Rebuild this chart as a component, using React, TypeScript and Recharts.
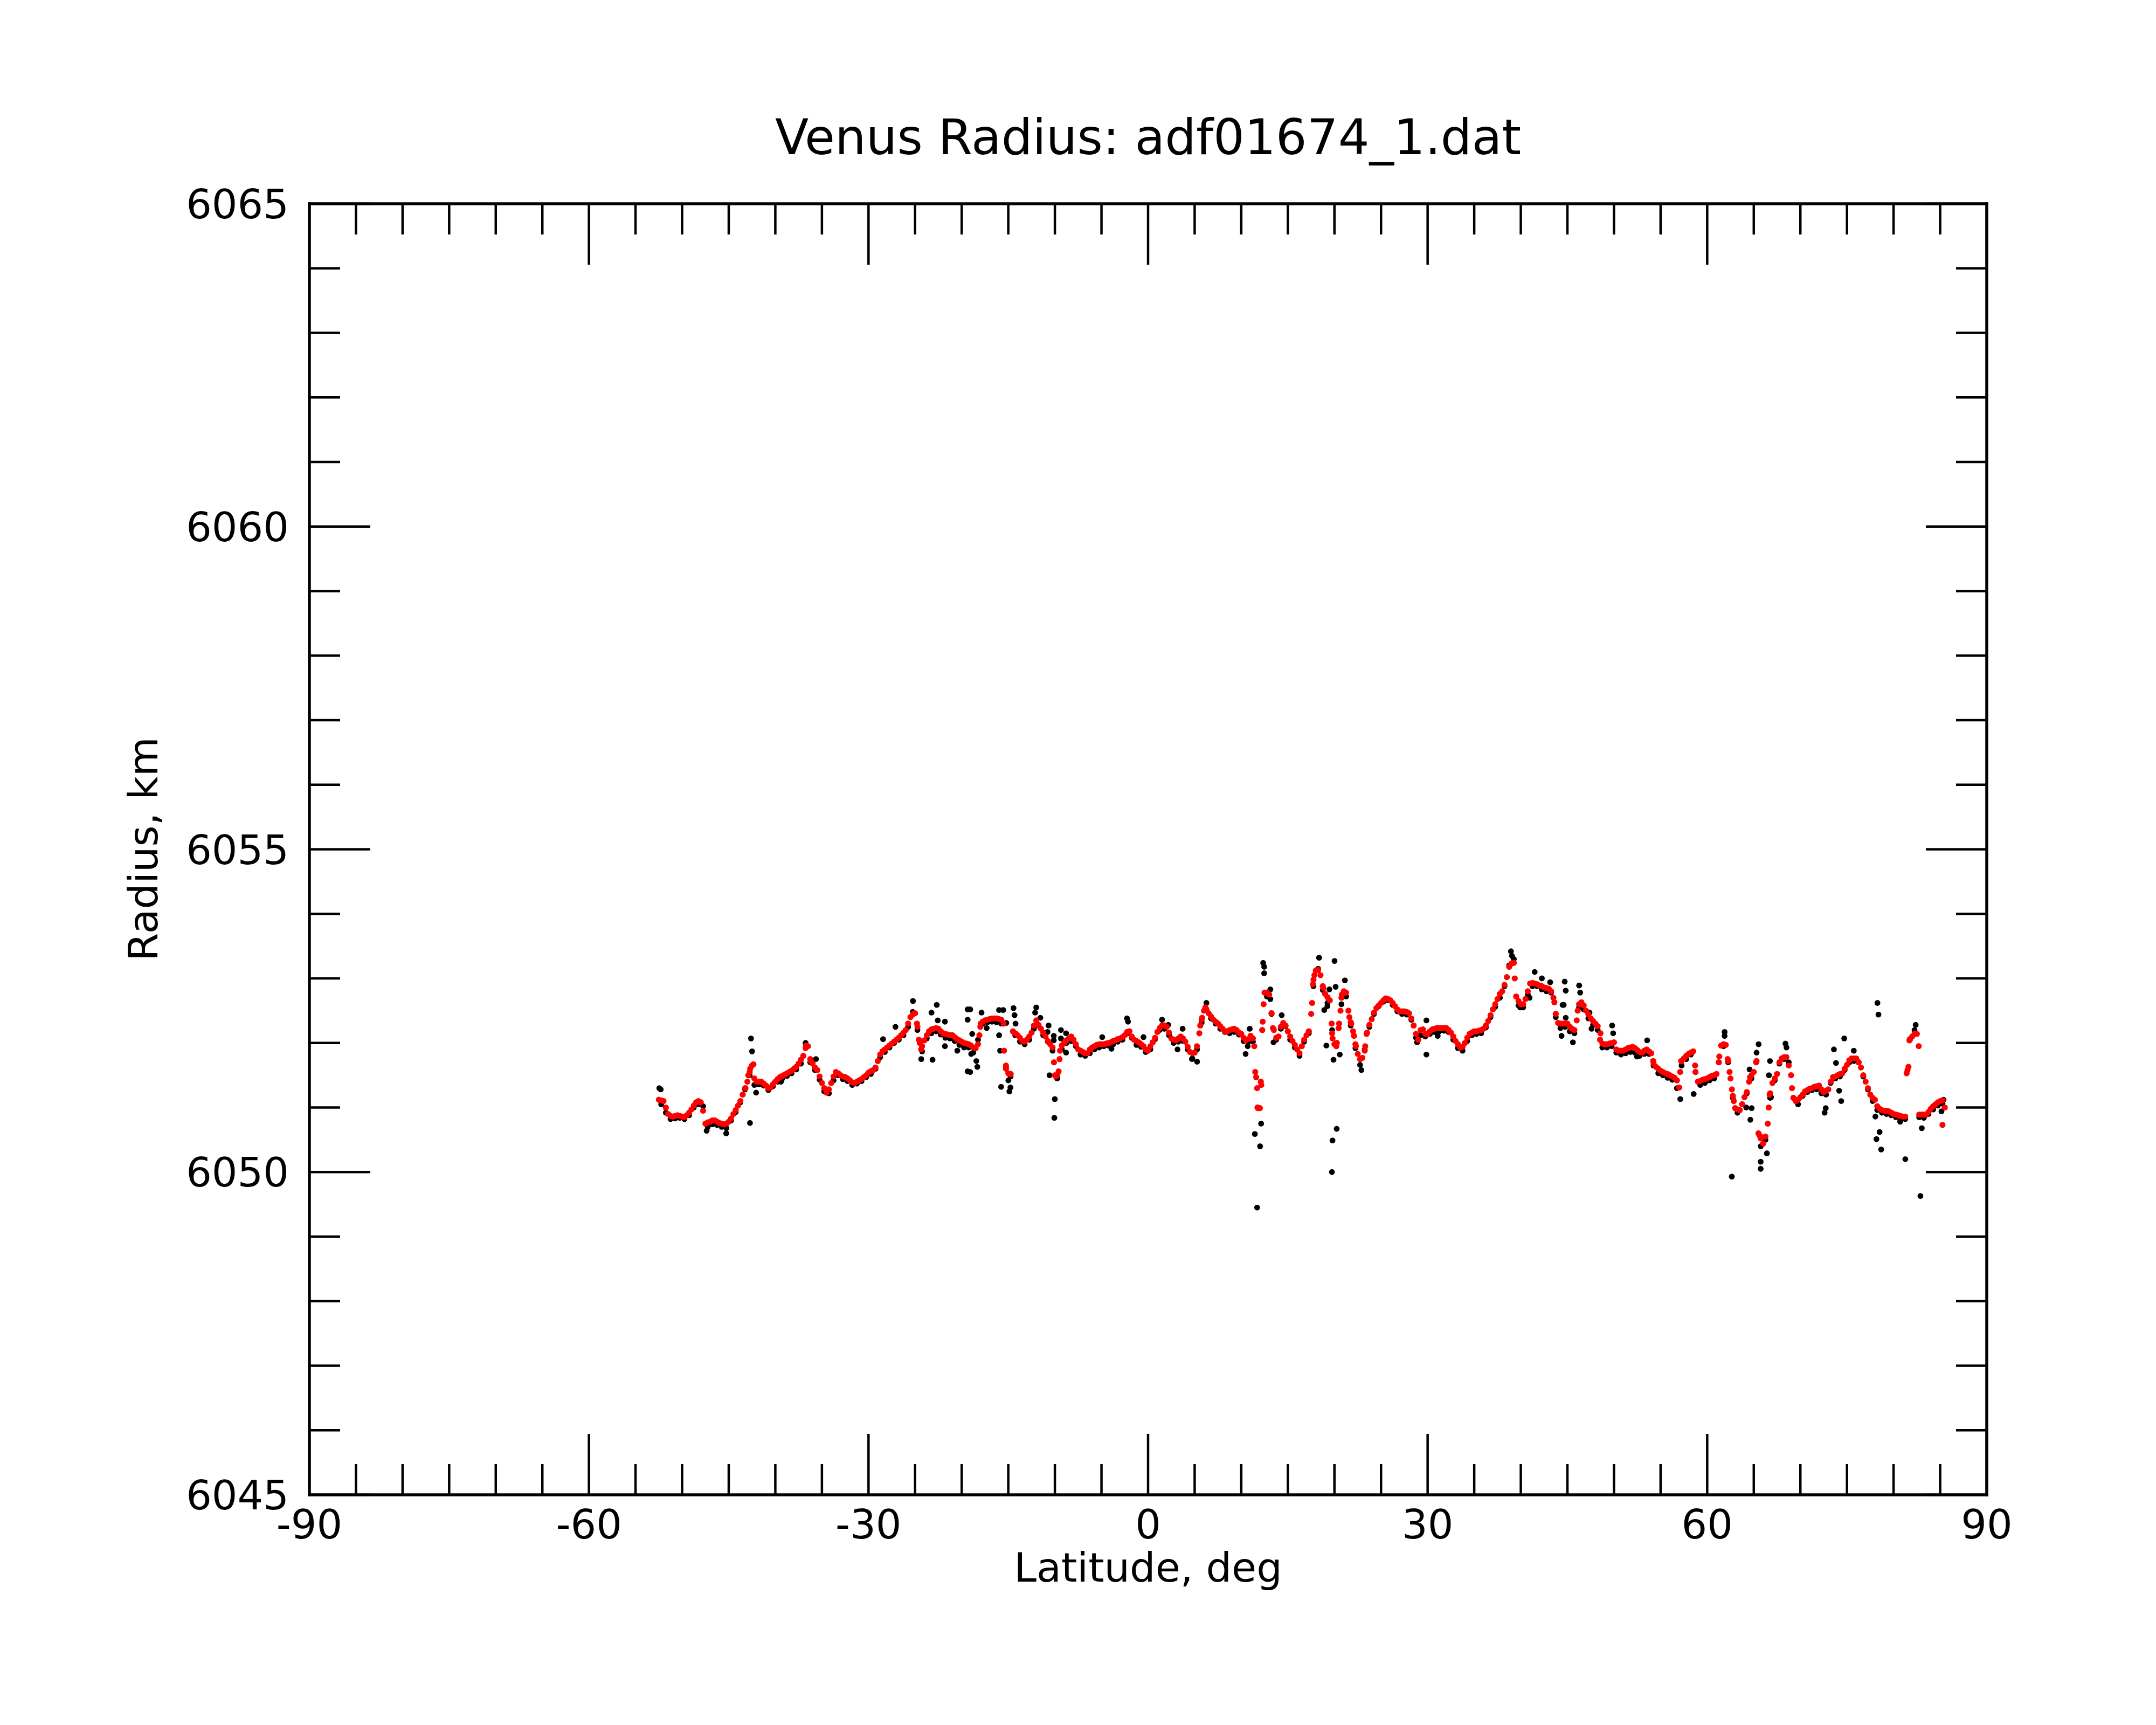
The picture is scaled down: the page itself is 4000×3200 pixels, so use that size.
import { ScatterChart, Scatter, XAxis, YAxis } from "recharts"

const TITLE = "Venus Radius: adf01674_1.dat"
const X_LABEL = "Latitude, deg"
const Y_LABEL = "Radius, km"

const X_TICKS = [-90, -85, -80, -75, -70, -65, -60, -55, -50, -45, -40, -35, -30, -25, -20, -15, -10, -5, 0,
  5, 10, 15, 20, 25, 30, 35, 40, 45, 50, 55, 60, 65, 70, 75, 80, 85, 90]
const Y_TICKS = [6045, 6046, 6047, 6048, 6049, 6050, 6051, 6052, 6053, 6054, 6055,
  6056, 6057, 6058, 6059, 6060, 6061, 6062, 6063, 6064, 6065]

// smoothed radius (red), read every 0.5 deg from -52.5
const RED_START = -52.5
const RED_STEP = 0.5
const RED_RADIUS = [
  6051.12, 6051.10, 6050.90, 6050.86, 6050.88, 6050.86, 6050.88, 6050.97, 6051.08, 6051.08,
  6050.75, 6050.78, 6050.80, 6050.76, 6050.74, 6050.78, 6050.90, 6051.03, 6051.20, 6051.40,
  6051.65, 6051.40, 6051.40, 6051.34, 6051.31, 6051.40, 6051.47, 6051.51, 6051.55, 6051.60,
  6051.68, 6051.80, 6051.95, 6051.68, 6051.58, 6051.38, 6051.23, 6051.38, 6051.55, 6051.50,
  6051.47, 6051.42, 6051.38, 6051.42, 6051.47, 6051.54, 6051.58, 6051.72, 6051.87, 6051.93,
  6051.99, 6052.05, 6052.12, 6052.20, 6052.40, 6052.46, 6052.00, 6052.04, 6052.18, 6052.22,
  6052.22, 6052.15, 6052.13, 6052.12, 6052.06, 6052.02, 6051.99, 6051.96, 6051.92, 6052.25,
  6052.35, 6052.37, 6052.38, 6052.37, 6052.30, 6051.53, 6052.18, 6052.12, 6052.03, 6052.05,
  6052.16, 6052.35, 6052.22, 6052.10, 6051.98, 6051.50, 6051.75, 6052.00, 6052.07, 6052.05,
  6051.90, 6051.86, 6051.84, 6051.93, 6051.97, 6051.98, 6051.99, 6052.01, 6052.04, 6052.07,
  6052.12, 6052.18, 6052.05, 6052.01, 6051.95, 6051.88, 6052.01, 6052.17, 6052.27, 6052.25,
  6052.07, 6052.04, 6052.10, 6052.02, 6051.86, 6051.85, 6052.15, 6052.50, 6052.46, 6052.36,
  6052.30, 6052.22, 6052.18, 6052.21, 6052.20, 6052.14, 6052.04, 6052.11, 6051.55, 6050.99,
  6052.78, 6052.75, 6052.20, 6052.10, 6052.31, 6052.18, 6052.03, 6051.90, 6051.95, 6052.12,
  6052.45, 6053.12, 6053.05, 6052.76, 6052.66, 6051.98, 6052.30, 6052.80, 6052.50, 6052.18,
  6051.83, 6051.77, 6052.16, 6052.37, 6052.54, 6052.62, 6052.69, 6052.66, 6052.57, 6052.49,
  6052.49, 6052.46, 6052.27, 6052.05, 6052.21, 6052.14, 6052.21, 6052.23, 6052.23, 6052.23,
  6052.16, 6052.03, 6051.93, 6052.00, 6052.14, 6052.18, 6052.19, 6052.22, 6052.34, 6052.52,
  6052.68, 6052.80, 6053.02, 6053.23, 6052.72, 6052.60, 6052.68, 6052.92, 6052.92, 6052.89,
  6052.86, 6052.84, 6052.70, 6052.31, 6052.30, 6052.30, 6052.22, 6052.35, 6052.63, 6052.50,
  6052.38, 6052.30, 6052.05, 6051.98, 6051.99, 6052.01, 6051.88, 6051.88, 6051.92, 6051.94,
  6051.89, 6051.85, 6051.90, 6051.84, 6051.63, 6051.57, 6051.53, 6051.50, 6051.46, 6051.31,
  6051.76, 6051.83, 6051.87, 6051.40, 6051.43, 6051.45, 6051.49, 6051.52, 6051.96, 6051.97,
  6051.45, 6050.99, 6050.96, 6051.16, 6051.40, 6051.55, 6050.60, 6050.44, 6050.75, 6051.38,
  6051.52, 6051.76, 6051.78, 6051.50, 6051.10, 6051.16, 6051.25, 6051.29, 6051.32, 6051.34,
  6051.24, 6051.28, 6051.47, 6051.50, 6051.53, 6051.66, 6051.76, 6051.76, 6051.62, 6051.40,
  6051.20, 6051.12, 6050.98, 6050.95, 6050.94, 6050.90, 6050.88, 6050.86, 6051.58, 6052.10,
  6052.14, 6050.89, 6050.89, 6050.98, 6051.05, 6051.10, 6051.00,
]

// smoothed radius (red), read every 0.5 deg from -52.25
const RED_MID_START = -52.25
const RED_MID_STEP = 0.5
const RED_MID_RADIUS = [
  6051.11, 6051.00, 6050.87, 6050.87, 6050.87, 6050.85, 6050.92, 6051.03, 6051.10, 6050.95,
  6050.77, 6050.80, 6050.78, 6050.75, 6050.75, 6050.83, 6050.96, 6051.10, 6051.30, 6051.55,
  6051.45, 6051.40, 6051.37, 6051.30, 6051.36, 6051.44, 6051.49, 6051.53, 6051.57, 6051.63,
  6051.74, 6051.92, 6051.75, 6051.62, 6051.48, 6051.30, 6051.28, 6051.48, 6051.53, 6051.48,
  6051.45, 6051.39, 6051.40, 6051.44, 6051.50, 6051.56, 6051.62, 6051.82, 6051.90, 6051.96,
  6052.02, 6052.08, 6052.16, 6052.30, 6052.44, 6052.25, 6051.95, 6052.12, 6052.21, 6052.23,
  6052.18, 6052.14, 6052.12, 6052.09, 6052.04, 6052.00, 6051.98, 6051.93, 6051.98, 6052.33,
  6052.36, 6052.38, 6052.38, 6052.36, 6051.60, 6051.52, 6052.15, 6052.08, 6052.02, 6052.10,
  6052.27, 6052.28, 6052.16, 6052.03, 6051.93, 6051.50, 6051.96, 6052.04, 6052.10, 6051.98,
  6051.88, 6051.84, 6051.90, 6051.95, 6051.98, 6051.98, 6052.00, 6052.03, 6052.06, 6052.09,
  6052.17, 6052.10, 6052.03, 6051.98, 6051.90, 6051.95, 6052.08, 6052.23, 6052.27, 6052.16,
  6052.05, 6052.07, 6052.07, 6051.94, 6051.84, 6051.95, 6052.36, 6052.52, 6052.41, 6052.33,
  6052.26, 6052.18, 6052.20, 6052.22, 6052.16, 6052.08, 6052.06, 6052.07, 6051.00, 6052.20,
  6052.78, 6052.46, 6052.08, 6052.25, 6052.27, 6052.10, 6051.97, 6051.84, 6052.05, 6052.18,
  6052.98, 6053.13, 6052.88, 6052.71, 6052.15, 6052.00, 6052.70, 6052.78, 6052.32, 6051.98,
  6051.75, 6051.88, 6052.28, 6052.47, 6052.58, 6052.66, 6052.68, 6052.62, 6052.52, 6052.49,
  6052.48, 6052.38, 6052.14, 6052.20, 6052.14, 6052.18, 6052.22, 6052.23, 6052.23, 6052.20,
  6052.10, 6051.98, 6051.94, 6052.08, 6052.16, 6052.18, 6052.20, 6052.27, 6052.43, 6052.60,
  6052.76, 6052.90, 6053.18, 6053.24, 6052.65, 6052.60, 6052.80, 6052.93, 6052.91, 6052.88,
  6052.85, 6052.80, 6052.45, 6052.30, 6052.30, 6052.25, 6052.20, 6052.60, 6052.58, 6052.44,
  6052.34, 6052.26, 6051.99, 6051.98, 6052.00, 6051.90, 6051.88, 6051.90, 6051.93, 6051.92,
  6051.86, 6051.88, 6051.87, 6051.68, 6051.60, 6051.55, 6051.52, 6051.48, 6051.42, 6051.72,
  6051.80, 6051.85, 6051.55, 6051.41, 6051.44, 6051.47, 6051.50, 6051.70, 6051.98, 6051.72,
  6051.18, 6050.97, 6051.05, 6051.24, 6051.50, 6051.70, 6050.52, 6050.55, 6051.22, 6051.45,
  6051.70, 6051.78, 6051.65, 6051.15, 6051.12, 6051.20, 6051.27, 6051.30, 6051.33, 6051.28,
  6051.26, 6051.40, 6051.48, 6051.52, 6051.60, 6051.73, 6051.76, 6051.70, 6051.50, 6051.30,
  6051.15, 6051.02, 6050.96, 6050.95, 6050.92, 6050.89, 6050.87, 6050.86, 6052.06, 6052.14,
  6050.89, 6050.89, 6050.93, 6051.02, 6051.08, 6051.11,
]

// red points on the steep parts and in the dips
const RED_EXTRA: [number, number][] = [
  [-43.2, 6051.30], [-42.9, 6051.50], [-42.7, 6051.60], [-42.35, 6051.67], [-36.7, 6051.96], [-36.2, 6051.72],
  [-25.2, 6052.45], [-24.8, 6052.30], [-24.6, 6052.05], [-24.35, 6051.90], [-18.1, 6052.12], [-17.95, 6052.30],
  [-15.45, 6051.88], [-15.25, 6051.65], [-14.9, 6051.52], [-14.75, 6051.52], [-10.1, 6051.70], [-9.9, 6051.48],
  [-9.6, 6051.56], [-9.45, 6051.88], [5.6, 6052.27], [5.8, 6052.39], [6.15, 6052.55], [11.4, 6051.95],
  [11.6, 6051.47], [11.7, 6051.30], [11.8, 6050.99], [11.9, 6050.99], [12.1, 6051.40], [12.15, 6051.35],
  [12.3, 6052.33], [12.4, 6052.60], [13.25, 6052.46], [13.4, 6052.23], [17.6, 6052.62], [17.7, 6052.91],
  [17.85, 6053.05], [18.8, 6052.85], [19.7, 6052.30], [19.8, 6052.07], [20.2, 6051.95], [20.45, 6052.23],
  [20.65, 6052.50], [20.8, 6052.75], [21.6, 6052.40], [21.8, 6052.30], [22.1, 6052.11], [22.3, 6051.95],
  [23.3, 6051.95], [23.45, 6052.14], [39.35, 6053.00], [43.6, 6052.63], [43.75, 6052.45], [46.1, 6052.50],
  [48.55, 6052.15], [54.2, 6051.72], [57.1, 6051.55], [57.2, 6051.72], [58.7, 6051.65], [61.3, 6051.79],
  [62.2, 6051.75], [62.4, 6051.55], [62.65, 6051.28], [62.85, 6051.10], [64.6, 6051.47], [65.3, 6051.72],
  [65.6, 6050.57], [65.7, 6050.55], [66.6, 6051.00], [66.7, 6051.20], [69.1, 6051.30], [81.4, 6051.53],
  [81.6, 6051.63], [81.7, 6052.04], [82.7, 6051.95], [85.25, 6050.73],
]

// raw radius (black), read every 0.5 deg from -52.25
const BLACK_START = -52.25
const BLACK_STEP = 0.5
const BLACK_RADIUS = [
  6051.05, 6050.92, 6050.82, 6050.83, 6050.84, 6050.82, 6050.88, 6051.00, 6051.05, 6051.02,
  6050.70, 6050.74, 6050.73, 6050.70, 6050.68, 6050.80, 6050.93, 6051.08, 6051.28, 6051.50,
  6051.35, 6051.36, 6051.34, 6051.27, 6051.33, 6051.40, 6051.45, 6051.49, 6051.53, 6051.59,
  6051.68, 6052.00, 6051.70, 6051.58, 6051.43, 6051.25, 6051.22, 6051.42, 6051.50, 6051.44,
  6051.41, 6051.35, 6051.37, 6051.41, 6051.47, 6051.52, 6051.60, 6051.78, 6051.86, 6051.93,
  6052.00, 6052.05, 6052.12, 6052.25, 6052.48, 6052.20, 6051.87, 6052.07, 6052.15, 6052.18,
  6052.13, 6052.08, 6052.07, 6052.03, 6051.97, 6051.93, 6051.93, 6051.85, 6052.05, 6052.30,
  6052.32, 6052.33, 6052.32, 6052.30, 6051.62, 6051.48, 6052.12, 6052.02, 6051.98, 6052.05,
  6052.22, 6052.27, 6052.12, 6052.02, 6051.88, 6051.45, 6051.90, 6052.00, 6052.03, 6051.95,
  6051.82, 6051.80, 6051.84, 6051.90, 6051.93, 6051.95, 6051.96, 6051.98, 6052.02, 6052.05,
  6052.15, 6052.08, 6051.97, 6051.94, 6051.86, 6051.90, 6052.06, 6052.20, 6052.22, 6052.12,
  6052.00, 6052.02, 6052.03, 6051.90, 6051.76, 6051.90, 6052.32, 6052.52, 6052.38, 6052.30,
  6052.22, 6052.17, 6052.15, 6052.17, 6052.13, 6052.03, 6052.02, 6052.02, 6051.00, 6052.20,
  6052.72, 6052.45, 6052.05, 6052.22, 6052.26, 6052.05, 6051.93, 6051.80, 6052.02, 6052.15,
  6052.88, 6053.15, 6052.82, 6052.62, 6052.20, 6052.00, 6052.60, 6052.72, 6052.27, 6051.92,
  6051.66, 6051.90, 6052.25, 6052.45, 6052.57, 6052.64, 6052.66, 6052.59, 6052.49, 6052.45,
  6052.44, 6052.36, 6052.08, 6052.12, 6052.10, 6052.14, 6052.17, 6052.18, 6052.19, 6052.17,
  6052.05, 6051.92, 6051.88, 6052.03, 6052.12, 6052.14, 6052.15, 6052.24, 6052.40, 6052.56,
  6052.70, 6052.88, 6053.20, 6053.30, 6052.58, 6052.55, 6052.75, 6052.88, 6052.88, 6052.83,
  6052.80, 6052.78, 6052.40, 6052.23, 6052.25, 6052.18, 6052.15, 6052.55, 6052.52, 6052.38,
  6052.28, 6052.20, 6051.93, 6051.93, 6051.95, 6051.85, 6051.82, 6051.84, 6051.86, 6051.85,
  6051.80, 6051.83, 6051.83, 6051.65, 6051.53, 6051.50, 6051.46, 6051.43, 6051.30, 6051.65,
  6051.75, 6051.82, 6051.55, 6051.35, 6051.38, 6051.42, 6051.45, 6051.70, 6051.95, 6051.70,
  6051.15, 6050.92, 6051.05, 6051.22, 6051.45, 6051.70, 6050.40, 6050.50, 6051.15, 6051.42,
  6051.68, 6051.75, 6051.70, 6051.15, 6051.05, 6051.18, 6051.24, 6051.27, 6051.28, 6051.22,
  6051.20, 6051.38, 6051.45, 6051.48, 6051.58, 6051.70, 6051.72, 6051.70, 6051.48, 6051.28,
  6051.10, 6050.96, 6050.92, 6050.90, 6050.88, 6050.85, 6050.80, 6050.82, 6052.05, 6052.20,
  6050.85, 6050.84, 6050.90, 6050.97, 6051.03, 6051.06,
]

// scattered raw points away from the smoothed curve
const BLACK_EXTRA: [number, number][] = [
  [-52.45, 6051.30], [-52.3, 6051.28], [-42.61, 6052.07], [-42.5, 6051.87], [-42.72, 6050.76], [-45.27, 6050.60],
  [-47.37, 6050.64], [-25.23, 6052.65], [-27.11, 6052.25], [-28.44, 6052.06], [-23.24, 6052.47], [-22.68, 6052.59],
  [-22.57, 6052.35], [-23.13, 6051.74], [-24.34, 6051.75], [-21.8, 6052.33], [-19.36, 6052.52], [-19.36, 6052.36],
  [-19.36, 6051.56], [-21.8, 6051.95], [-20.47, 6051.88], [-39.4, 6051.40], [-42.06, 6051.23], [-35.64, 6051.75],
  [-19.09, 6052.52], [-18.87, 6052.14], [-18.98, 6051.83], [-18.43, 6051.72], [-18.32, 6051.63], [-19.09, 6051.55],
  [-17.87, 6052.47], [-17.32, 6052.23], [-15.99, 6052.51], [-15.55, 6052.51], [-15.22, 6052.31], [-15.99, 6052.12],
  [-15.88, 6051.88], [-15.77, 6051.32], [-14.99, 6051.42], [-14.77, 6051.31], [-14.88, 6051.25], [-14.44, 6052.54],
  [-14.33, 6052.43], [-14.22, 6052.30], [-12.0, 6052.55], [-12.12, 6052.47], [-11.56, 6052.39], [-10.68, 6052.27],
  [-10.79, 6052.17], [-10.12, 6052.11], [-10.12, 6052.04], [-9.35, 6052.20], [-8.8, 6052.15], [-9.35, 6052.07],
  [-8.8, 6051.85], [-10.57, 6051.50], [-10.01, 6051.13], [-10.06, 6050.84], [-4.92, 6052.09], [-3.93, 6051.91],
  [-2.26, 6052.38], [-2.15, 6052.33], [-0.49, 6052.09], [1.5, 6052.36], [2.16, 6052.28], [3.71, 6052.22],
  [3.16, 6051.90], [4.71, 6051.75], [5.26, 6051.71], [6.26, 6052.62], [10.91, 6052.22], [10.69, 6051.95],
  [10.47, 6051.83], [12.35, 6053.24], [12.46, 6053.18], [12.46, 6053.08], [13.12, 6052.83], [13.12, 6052.68],
  [12.13, 6050.75], [11.46, 6050.59], [12.02, 6050.40], [11.7, 6049.45], [14.34, 6052.43], [13.46, 6052.01],
  [18.35, 6053.32], [20.01, 6053.27], [20.13, 6052.87], [19.46, 6052.83], [18.91, 6052.51], [19.24, 6052.57],
  [21.12, 6052.97], [19.13, 6051.96], [19.9, 6051.74], [20.57, 6051.82], [20.24, 6050.67], [19.79, 6050.49],
  [19.73, 6050.0], [22.89, 6051.58], [28.87, 6052.01], [29.87, 6052.35], [29.87, 6051.82], [31.08, 6052.11],
  [38.94, 6053.42], [39.05, 6053.35], [39.94, 6052.55], [41.49, 6053.10], [42.26, 6053.00], [43.15, 6052.94],
  [44.48, 6052.59], [44.37, 6052.11], [40.94, 6052.70], [44.71, 6052.95], [44.82, 6052.81], [44.6, 6052.59],
  [44.82, 6052.39], [45.59, 6052.01], [46.26, 6052.89], [46.37, 6052.78], [47.37, 6052.47], [47.59, 6052.22],
  [49.8, 6052.27], [49.91, 6052.15], [53.56, 6052.04], [52.46, 6051.79], [57.11, 6051.13], [58.55, 6051.21],
  [61.87, 6052.17], [61.87, 6052.11], [62.64, 6049.93], [65.52, 6051.98], [65.3, 6051.85], [64.63, 6050.81],
  [64.19, 6051.00], [66.41, 6050.29], [65.74, 6050.16], [65.74, 6050.05], [66.74, 6051.72], [66.63, 6051.50],
  [68.4, 6051.99], [68.51, 6051.93], [66.85, 6051.16], [74.71, 6052.07], [73.6, 6051.90], [73.82, 6051.69],
  [74.16, 6051.26], [74.38, 6051.10], [72.72, 6050.99], [72.6, 6050.92], [78.27, 6052.62], [78.38, 6052.44],
  [78.05, 6050.86], [78.5, 6050.62], [78.16, 6050.51], [78.67, 6050.35], [81.26, 6050.20], [82.88, 6049.63],
  [83.03, 6050.68], [82.37, 6052.28], [75.73, 6051.88], [85.14, 6050.94], [85.36, 6051.12], [80.71, 6050.78],
  [64.55, 6051.59], [64.77, 6050.99],
]

const FONT = "'DejaVu Sans', sans-serif"
const MAJOR = 113
const MINOR = 57
const TICK_W = 4.5

const gridPoints = (start: number, step: number, values: number[]) =>
  values.map((radius, i) => ({ lat: start + i * step, radius }))
const pairPoints = (pairs: [number, number][]) => pairs.map(([lat, radius]) => ({ lat, radius }))

const redData = [
  ...gridPoints(RED_START, RED_STEP, RED_RADIUS),
  ...gridPoints(RED_MID_START, RED_MID_STEP, RED_MID_RADIUS),
  ...pairPoints(RED_EXTRA),
]
const blackData = [...gridPoints(BLACK_START, BLACK_STEP, BLACK_RADIUS), ...pairPoints(BLACK_EXTRA)]

const isMajorX = (v: number) => v % 30 === 0
const isMajorY = (v: number) => (v - 6045) % 5 === 0

function BottomTick({ x, y, payload }: any) {
  const major = isMajorX(payload.value)
  return (
    <g>
      <line x1={x} y1={y} x2={x} y2={y - (major ? MAJOR : MINOR)} stroke="#000" strokeWidth={TICK_W} />
      {major && (
        <text x={x} y={y + 81} textAnchor="middle" fontSize={75} fontFamily={FONT} fill="#000">
          {payload.value}
        </text>
      )}
    </g>
  )
}

function TopTick({ x, y, payload }: any) {
  const len = isMajorX(payload.value) ? MAJOR : MINOR
  return <line x1={x} y1={y} x2={x} y2={y + len} stroke="#000" strokeWidth={TICK_W} />
}

function LeftTick({ x, y, payload }: any) {
  const major = isMajorY(payload.value)
  return (
    <g>
      <line x1={x} y1={y} x2={x + (major ? MAJOR : MINOR)} y2={y} stroke="#000" strokeWidth={TICK_W} />
      {major && (
        <text x={x - 38} y={y + 27} textAnchor="end" fontSize={75} fontFamily={FONT} fill="#000">
          {payload.value}
        </text>
      )}
    </g>
  )
}

function RightTick({ x, y, payload }: any) {
  const len = isMajorY(payload.value) ? MAJOR : MINOR
  return <line x1={x} y1={y} x2={x - len} y2={y} stroke="#000" strokeWidth={TICK_W} />
}

const dot = (fill: string, r: number) => (props: any) =>
  <circle cx={props.cx} cy={props.cy} r={r} fill={fill} />

const axisLine = { stroke: "#000", strokeWidth: 5.5, strokeLinecap: "square" as const }

export default function App() {
  return (
    <div style={{ position: "relative", width: 4000, height: 3200, background: "#fff" }}>
      <style>{"body{margin:0}"}</style>
      <ScatterChart width={4000} height={3200} margin={{ top: 368, right: 304, bottom: 227, left: 474 }}>
        <XAxis xAxisId="b" type="number" dataKey="lat" orientation="bottom" domain={[-90, 90]} ticks={X_TICKS}
          interval={0} height={200} tickSize={0} tickMargin={0} tickLine={false} axisLine={axisLine}
          tick={<BottomTick />} allowDataOverflow />
        <XAxis xAxisId="t" type="number" dataKey="lat" orientation="top" domain={[-90, 90]} ticks={X_TICKS}
          interval={0} height={10} tickSize={0} tickMargin={0} tickLine={false} axisLine={axisLine}
          tick={<TopTick />} allowDataOverflow />
        <YAxis yAxisId="l" type="number" dataKey="radius" orientation="left" domain={[6045, 6065]} ticks={Y_TICKS}
          interval={0} width={100} tickSize={0} tickMargin={0} tickLine={false} axisLine={axisLine}
          tick={<LeftTick />} allowDataOverflow />
        <YAxis yAxisId="r" type="number" dataKey="radius" orientation="right" domain={[6045, 6065]} ticks={Y_TICKS}
          interval={0} width={10} tickSize={0} tickMargin={0} tickLine={false} axisLine={axisLine}
          tick={<RightTick />} allowDataOverflow />
        <Scatter xAxisId="b" yAxisId="l" data={blackData} shape={dot("#000", 5.4)} isAnimationActive={false} />
        <Scatter xAxisId="b" yAxisId="l" data={redData} shape={dot("#ff0000", 5.6)} isAnimationActive={false} />
      </ScatterChart>
      <svg width={4000} height={3200} style={{ position: "absolute", left: 0, top: 0, pointerEvents: "none" }}>
        <text x={2130} y={286} textAnchor="middle" fontSize={91} fontFamily={FONT} fill="#000">{TITLE}</text>
        <text x={2130} y={2934} textAnchor="middle" fontSize={75} fontFamily={FONT} fill="#000">{X_LABEL}</text>
        <text x={292} y={1575} transform="rotate(-90 292 1575)" textAnchor="middle" fontSize={75}
          fontFamily={FONT} fill="#000">{Y_LABEL}</text>
      </svg>
    </div>
  )
}
